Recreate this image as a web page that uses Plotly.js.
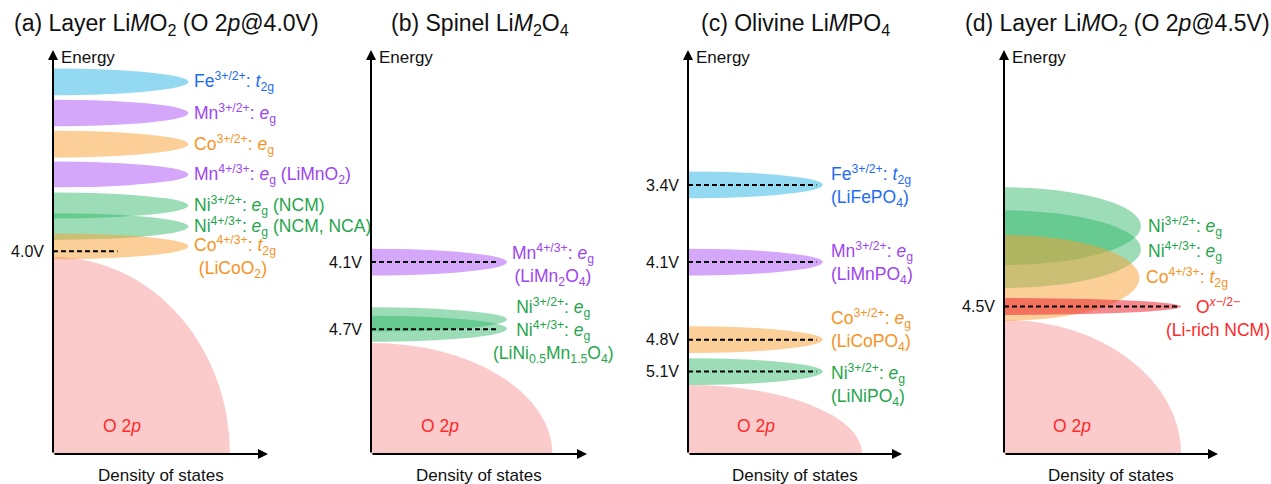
<!DOCTYPE html>
<html><head><meta charset="utf-8">
<script src="https://cdn.plot.ly/plotly-3.0.1.min.js"></script>
<style>html,body{margin:0;padding:0;background:#fff}</style>
</head><body><div id="chart" style="width:1271px;height:484px"></div>
<script>
// ---------- DATA ----------
// Panel (a) Layer LiMO2 (O 2p @ 4.0V)
const aMetal   = ['Fe','Mn','Co','Mn','Ni','Ni','Co'];
const aCenter  = [92.1, 84.4, 76.7, 69.2, 61.5, 56.3, 51.4];   // band centre (energy, a.u.)
const aHalf    = [3.3, 3.3, 3.3, 3.2, 3.2, 3.3, 3.2];          // band half-width
const aDos     = [63, 63, 63, 63, 63, 63, 63];                 // peak DOS
const aLabels  = [
  'Fe<sup>3+/2+</sup>: <i>t</i><sub>2g</sub>',
  'Mn<sup>3+/2+</sup>: <i>e</i><sub>g</sub>',
  'Co<sup>3+/2+</sup>: <i>e</i><sub>g</sub>',
  'Mn<sup>4+/3+</sup>: <i>e</i><sub>g</sub> (LiMnO<sub>2</sub>)',
  'Ni<sup>3+/2+</sup>: <i>e</i><sub>g</sub> (NCM)',
  'Ni<sup>4+/3+</sup>: <i>e</i><sub>g</sub> (NCM, NCA)',
  'Co<sup>4+/3+</sup>: <i>t</i><sub>2g</sub><br>\u00a0(LiCoO<sub>2</sub>)'
];
const aLabelIon = [0,1,2,3,4,5,6];
const aVolt     = [50.2];
const aVoltText = ['4.0V'];
const aDashEnd  = [30];
const aO2pTop = 48.8, aO2pDos = 82.3;

// Panel (b) Spinel LiM2O4
const bMetal   = ['Mn','Ni','Ni'];
const bCenter  = [47.5, 33.3, 31.0];
const bHalf    = [3.3, 3.0, 3.2];
const bDos     = [63, 63, 63];
const bLabels  = [
  'Mn<sup>4+/3+</sup>: <i>e</i><sub>g</sub><br>(LiMn<sub>2</sub>O<sub>4</sub>)',
  'Ni<sup>3+/2+</sup>: <i>e</i><sub>g</sub><br>Ni<sup>4+/3+</sup>: <i>e</i><sub>g</sub><br>(LiNi<sub>0.5</sub>Mn<sub>1.5</sub>O<sub>4</sub>)'
];
const bLabelIon = [0,2];
const bVolt     = [47.5, 30.9];
const bVoltText = ['4.1V','4.7V'];
const bDashEnd  = [59, 59];
const bO2pTop = 27.5, bO2pDos = 84;

// Panel (c) Olivine LiMPO4
const cMetal   = ['Fe','Mn','Co','Ni'];
const cCenter  = [66.6, 47.5, 28.3, 20.4];
const cHalf    = [3.3, 3.3, 3.3, 3.3];
const cDos     = [63, 63, 63, 63];
const cLabels  = [
  'Fe<sup>3+/2+</sup>: <i>t</i><sub>2g</sub><br>(LiFePO<sub>4</sub>)',
  'Mn<sup>3+/2+</sup>: <i>e</i><sub>g</sub><br>(LiMnPO<sub>4</sub>)',
  'Co<sup>3+/2+</sup>: <i>e</i><sub>g</sub><br>(LiCoPO<sub>4</sub>)',
  'Ni<sup>3+/2+</sup>: <i>e</i><sub>g</sub><br>(LiNiPO<sub>4</sub>)'
];
const cLabelIon = [0,1,2,3];
const cVolt     = [66.6, 47.5, 28.3, 20.4];
const cVoltText = ['3.4V','4.1V','4.8V','5.1V'];
const cDashEnd  = [60, 60, 60, 60];
const cO2pTop = 17.1, cO2pDos = 81.4;

// Panel (d) Layer LiMO2 (O 2p @ 4.5V)
const dMetal   = ['Ni','Ni','Co','O'];
const dCenter  = [56.4, 50.7, 43.6, 36.5];
const dHalf    = [9.6, 9.6, 10.6, 2.1];
const dDos     = [64, 64, 63.3, 82.8];
const dLabels  = [
  'Ni<sup>3+/2+</sup>: <i>e</i><sub>g</sub>',
  'Ni<sup>4+/3+</sup>: <i>e</i><sub>g</sub>',
  'Co<sup>4+/3+</sup>: <i>t</i><sub>2g</sub>',
  'O<sup><i>x</i>\u2212/2\u2212</sup><br>(Li-rich NCM)'
];
const dLabelIon = [0,1,2,3];
const dVolt     = [36.5];
const dVoltText = ['4.5V'];
const dDashEnd  = [82];
const dO2pTop = 33.2, dO2pDos = 82.8;

const titles = [
  '(a) Layer Li<i>M</i>O<sub>2</sub> (O 2<i>p</i>@4.0V)',
  '(b) Spinel Li<i>M</i><sub>2</sub>O<sub>4</sub>',
  '(c) Olivine Li<i>M</i>PO<sub>4</sub>',
  '(d) Layer Li<i>M</i>O<sub>2</sub> (O 2<i>p</i>@4.5V)'
];

// ---------- STYLE / LAYOUT ----------
const W = 1271, H = 484;
const FONT = 'Liberation Sans, Arial, Helvetica, sans-serif';
const FILL = {Fe:'rgba(40,180,230,0.5)', Mn:'rgba(170,80,245,0.5)', Co:'rgba(250,160,50,0.5)',
              Ni:'rgba(40,180,100,0.46)', O:'rgba(235,40,50,0.55)'};
const O2P_FILL = 'rgba(248,150,150,0.5)';
const TXT = {Fe:'#1e6bf5', Mn:'#9d45f0', Co:'#f7931e', Ni:'#1fa64b', O:'#ff2a2a'};
const axisPx = [[53,268],[371,587],[688,902],[1004,1218]];
const yDom = [1-454/H, 1-50/H];
const titleX = [166, 480, 795, 1117];
const labelStyle = [
  {xanchor:['left','left','left','left','left','left','left'], xshift:[4,4,4,4,4,4,4], yshift:[0,0,0,0,0,0,-11]},
  {xanchor:['center','center'], xshift:[46,46], yshift:[-3,-2]},
  {xanchor:['left','left','left','left'], xshift:[6,6,6,6], yshift:[-1,-1,10,-13]},
  {xanchor:['left','left','left','center'], xshift:[5,5,5,37], yshift:[0,-2,0,-11]}
];

const panels = [
  {metal:aMetal, center:aCenter, half:aHalf, dos:aDos, labels:aLabels, labelIon:aLabelIon, volt:aVolt, voltText:aVoltText, dashEnd:aDashEnd, o2pTop:aO2pTop, o2pDos:aO2pDos},
  {metal:bMetal, center:bCenter, half:bHalf, dos:bDos, labels:bLabels, labelIon:bLabelIon, volt:bVolt, voltText:bVoltText, dashEnd:bDashEnd, o2pTop:bO2pTop, o2pDos:bO2pDos},
  {metal:cMetal, center:cCenter, half:cHalf, dos:cDos, labels:cLabels, labelIon:cLabelIon, volt:cVolt, voltText:cVoltText, dashEnd:cDashEnd, o2pTop:cO2pTop, o2pDos:cO2pDos},
  {metal:dMetal, center:dCenter, half:dHalf, dos:dDos, labels:dLabels, labelIon:dLabelIon, volt:dVolt, voltText:dVoltText, dashEnd:dDashEnd, o2pTop:dO2pTop, o2pDos:dO2pDos}
];

const traces = [], shapes = [], annotations = [];
const layout = {
  width: W, height: H, margin:{l:0,r:0,t:0,b:0},
  paper_bgcolor:'#fff', plot_bgcolor:'rgba(0,0,0,0)',
  showlegend:false, font:{family:FONT, color:'#111'}
};

panels.forEach((p, i) => {
  const s = i === 0 ? '' : String(i+1);
  const xr = 'x'+s, yr = 'y'+s;
  layout['xaxis'+s] = {domain:[axisPx[i][0]/W, axisPx[i][1]/W], range:[0,100], showgrid:false, zeroline:false,
    showticklabels:false, showline:false, ticks:'', anchor:yr, fixedrange:true};
  layout['yaxis'+s] = {domain:yDom, range:[0,100], showgrid:false, zeroline:false, showline:false,
    tickvals:p.volt, ticktext:p.voltText, ticks:'', ticklabelstandoff:8,
    tickfont:{size:16, color:'#111', family:FONT}, anchor:xr, fixedrange:true};

  // O 2p band (quarter ellipse clipped by axes)
  shapes.push({type:'circle', xref:xr, yref:yr, x0:-p.o2pDos, x1:p.o2pDos, y0:-p.o2pTop, y1:p.o2pTop,
    fillcolor:O2P_FILL, line:{width:0}, layer:'below'});
  // d-bands (half ellipses clipped by the energy axis)
  p.metal.forEach((m, k) => {
    shapes.push({type:'circle', xref:xr, yref:yr, x0:-p.dos[k], x1:p.dos[k],
      y0:p.center[k]-p.half[k], y1:p.center[k]+p.half[k],
      fillcolor:FILL[m], line:{width:0}, layer:'below'});
  });
  // dashed voltage levels
  p.volt.forEach((v, k) => {
    traces.push({type:'scatter', mode:'lines', xaxis:xr, yaxis:yr, x:[0, p.dashEnd[k]], y:[v, v],
      line:{color:'#000', width:2, dash:'5px,3px'}, hoverinfo:'skip', showlegend:false});
  });
  // labels
  const st = labelStyle[i];
  p.labels.forEach((t, k) => {
    const ion = p.labelIon[k];
    annotations.push({xref:xr, yref:yr, x:p.dos[ion], y:p.center[ion], text:t, showarrow:false,
      xanchor:st.xanchor[k], align:st.xanchor[k] === 'center' ? 'center' : 'left', yanchor:'middle',
      xshift:st.xshift[k], yshift:st.yshift[k],
      font:{size:17.5, color:TXT[p.metal[ion]], family:FONT}});
  });
  // O 2p label
  annotations.push({xref:xr, yref:yr, x:32, y:7, text:'O 2<i>p</i>', showarrow:false, xanchor:'center', yanchor:'middle',
    font:{size:17.5, color:'#ff2a2a', family:FONT}});
  // axes arrows
  annotations.push({xref:xr, yref:yr, axref:xr, ayref:yr, x:0, y:100, ax:0, ay:0, text:'', showarrow:true,
    arrowhead:2, arrowsize:1, arrowwidth:2, arrowcolor:'#000', standoff:0, startstandoff:0});
  annotations.push({xref:xr, yref:yr, axref:xr, ayref:yr, x:100, y:0, ax:0, ay:0, text:'', showarrow:true,
    arrowhead:2, arrowsize:1, arrowwidth:2, arrowcolor:'#000', standoff:0, startstandoff:0});
  // axis titles
  annotations.push({xref:xr+' domain', yref:'paper', x:0, y:1-57/H, xshift:6, text:'Energy', showarrow:false,
    xanchor:'left', yanchor:'middle', font:{size:17, color:'#111', family:FONT}});
  annotations.push({xref:xr+' domain', yref:'paper', x:0.5, y:1-475/H, text:'Density of states', showarrow:false,
    xanchor:'center', yanchor:'middle', font:{size:17, color:'#111', family:FONT}});
  // panel title
  annotations.push({xref:'paper', yref:'paper', x:titleX[i]/W, y:1-25/H, text:titles[i], showarrow:false,
    xanchor:'center', yanchor:'middle', font:{size:23, color:'#111', family:FONT}});
});

layout.shapes = shapes;
layout.annotations = annotations;
Plotly.newPlot('chart', traces, layout, {displayModeBar:false, staticPlot:true});
</script>
</body></html>
